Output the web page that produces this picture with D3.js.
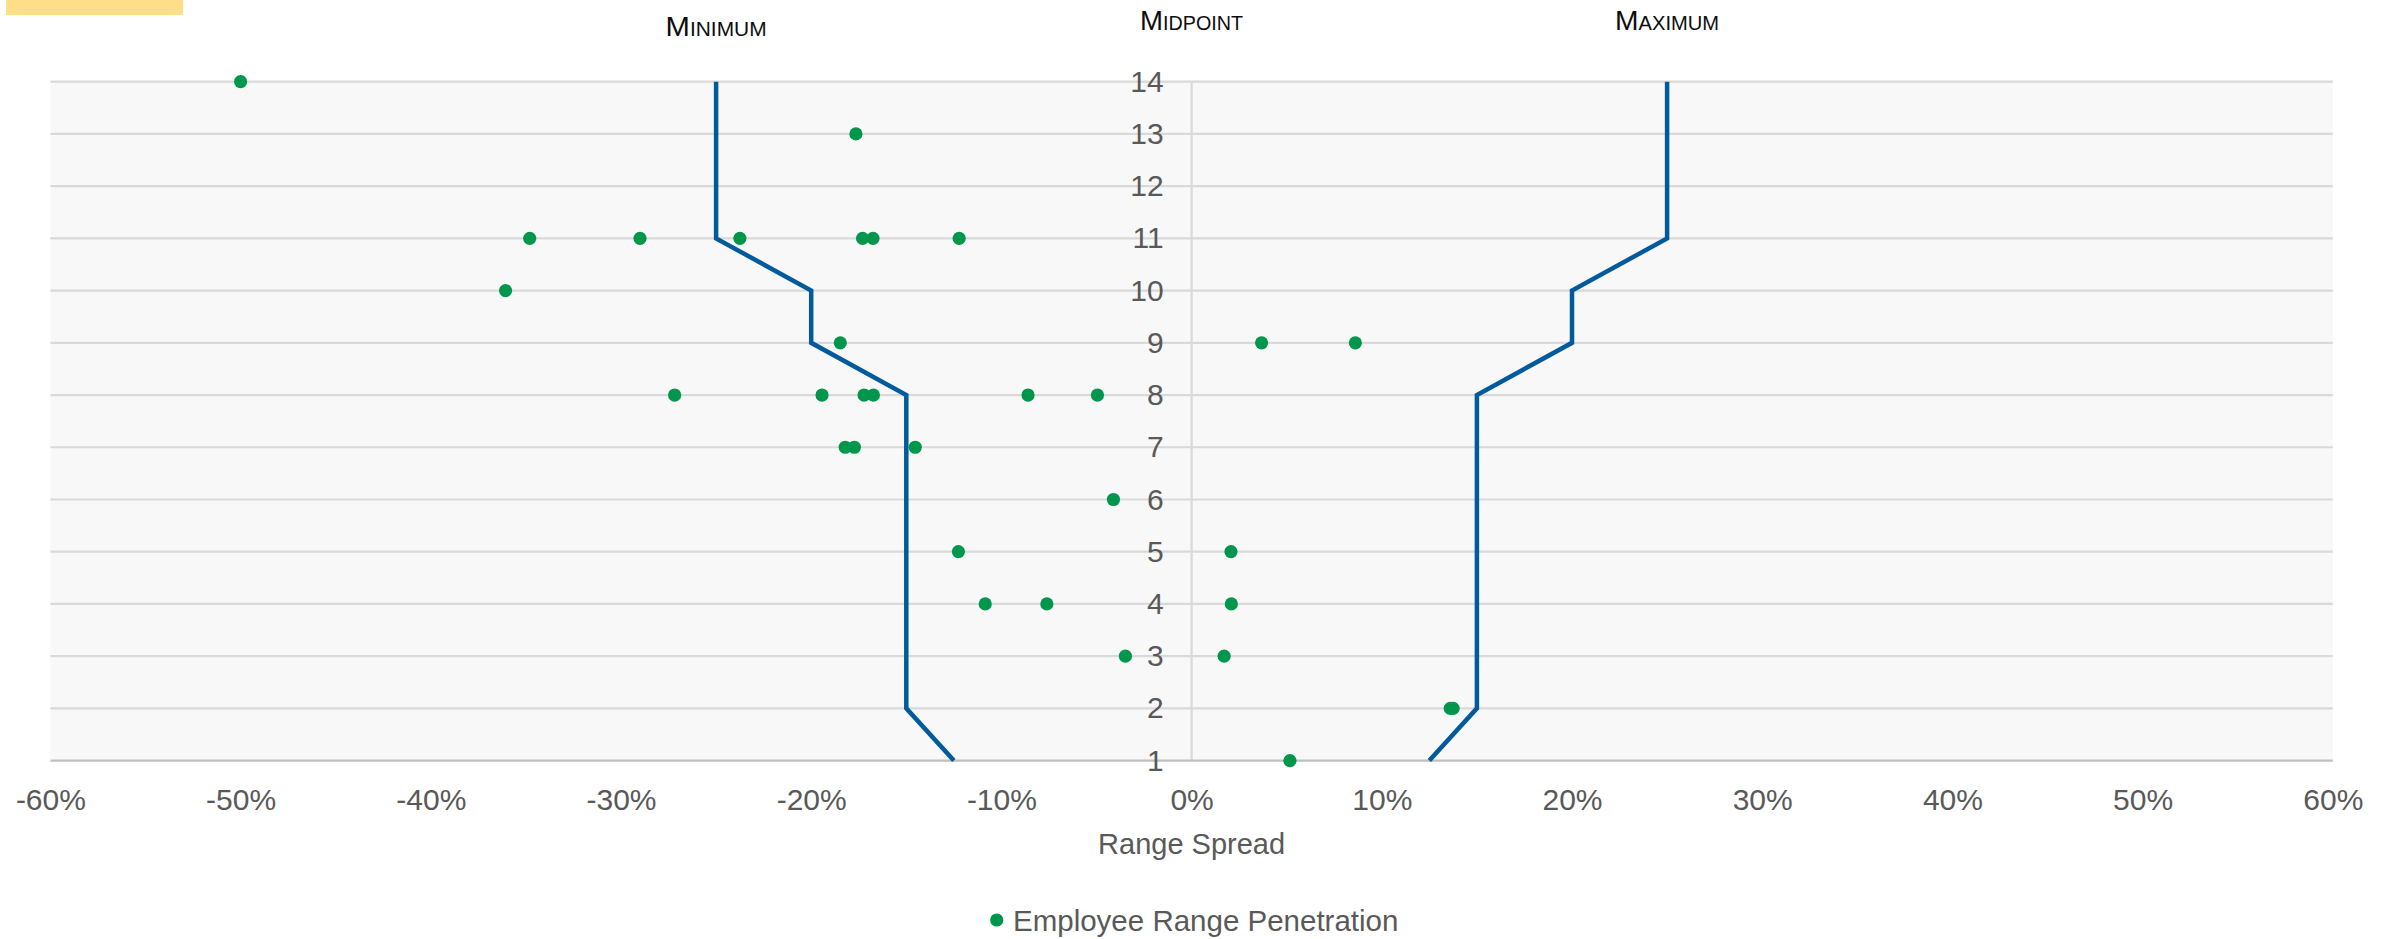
<!DOCTYPE html>
<html>
<head>
<meta charset="utf-8">
<script src="https://cdn.jsdelivr.net/npm/d3@7"></script>
<style>
  html, body { margin: 0; padding: 0; background: #ffffff; }
  svg { display: block; }
  text { font-family: "Liberation Sans", Arial, sans-serif; }
</style>
</head>
<body>
<svg id="chart" width="2395" height="939"></svg>
<script>
// Pay grade levels (y axis)
const levels = [1, 2, 3, 4, 5, 6, 7, 8, 9, 10, 11, 12, 13, 14];

// Range minimum / maximum spread from midpoint, per level
const minSpread = [-0.125, -0.15, -0.15, -0.15, -0.15, -0.15, -0.15, -0.15, -0.20, -0.20, -0.25, -0.25, -0.25, -0.25];
const maxSpread = [0.125, 0.15, 0.15, 0.15, 0.15, 0.15, 0.15, 0.15, 0.20, 0.20, 0.25, 0.25, 0.25, 0.25];

// Employee range penetration: level and spread from midpoint
const empLevel = [
  14, 13,
  11, 11, 11, 11, 11, 11,
  10,
  9, 9, 9,
  8, 8, 8, 8, 8, 8,
  7, 7, 7,
  6,
  5, 5,
  4, 4, 4,
  3, 3,
  2, 2,
  1
];
const empSpread = [
  -0.500, -0.1765,
  -0.348, -0.290, -0.2375, -0.173, -0.1675, -0.1222,
  -0.3607,
  -0.1847, 0.0368, 0.0861,
  -0.2718, -0.1943, -0.1722, -0.1673, -0.0860, -0.0495,
  -0.1821, -0.1773, -0.1453,
  -0.0411,
  -0.1226, 0.0207,
  -0.1085, -0.0761, 0.0209,
  -0.0348, 0.0171,
  0.1360, 0.1375,
  0.0517
];

// X axis ticks
const xTicks = [-0.6, -0.5, -0.4, -0.3, -0.2, -0.1, 0, 0.1, 0.2, 0.3, 0.4, 0.5, 0.6];

// Column headers
const headerLabels = ["Minimum", "Midpoint", "Maximum"];
const headerSpread = [-0.25, 0, 0.25];

const colors = {
  line: "#005A9C",
  point: "#00964B",
  grid: "#D9D9D9",
  axis: "#BFBFBF",
  plotBg: "#F8F8F8",
  text: "#595959",
  header: "#0D0D0D",
  accent: "#FFDE8A"
};

const svg = d3.select("#chart");

const x = d3.scaleLinear().domain([-0.6, 0.6]).range([50.4, 2332.8]);
const y = d3.scaleLinear().domain([1, 14]).range([760.6, 81.7]);

const locale = d3.formatLocale({ decimal: ".", thousands: ",", grouping: [3], currency: ["$", ""], minus: "-" });
const pct = locale.format(".0%");

// Accent bar at top-left
svg.append("rect")
  .attr("x", 6).attr("y", 0).attr("width", 177).attr("height", 15)
  .attr("fill", colors.accent);

// Plot background
svg.append("rect")
  .attr("x", x(-0.6)).attr("y", y(14))
  .attr("width", x(0.6) - x(-0.6)).attr("height", y(1) - y(14))
  .attr("fill", colors.plotBg);

// Horizontal gridlines
svg.append("g").selectAll("line")
  .data(levels.filter(d => d !== 1))
  .join("line")
  .attr("x1", x(-0.6)).attr("x2", x(0.6))
  .attr("y1", d => y(d)).attr("y2", d => y(d))
  .attr("stroke", colors.grid).attr("stroke-width", 2.2);

// Midpoint vertical line
svg.append("line")
  .attr("x1", x(0)).attr("x2", x(0))
  .attr("y1", y(14)).attr("y2", y(1))
  .attr("stroke", colors.grid).attr("stroke-width", 2.2);

// Bottom axis line
svg.append("line")
  .attr("x1", x(-0.6)).attr("x2", x(0.6))
  .attr("y1", y(1)).attr("y2", y(1))
  .attr("stroke", colors.axis).attr("stroke-width", 2.2);

// X axis
const xAxis = svg.append("g")
  .attr("transform", `translate(0,${y(1)})`)
  .call(d3.axisBottom(x).tickValues(xTicks).tickFormat(pct).tickSize(0).tickPadding(28));
xAxis.select(".domain").remove();
xAxis.selectAll("text")
  .attr("fill", colors.text)
  .style("font-family", '"Liberation Sans", Arial, sans-serif')
  .style("font-size", "30px");

// Y axis labels on the midpoint line
const yAxis = svg.append("g")
  .attr("transform", `translate(${x(0) - 28},0)`)
  .call(d3.axisLeft(y).tickValues(levels).tickFormat(d3.format("d")).tickSize(0).tickPadding(0));
yAxis.select(".domain").remove();
yAxis.selectAll("text")
  .attr("fill", colors.text)
  .style("font-family", '"Liberation Sans", Arial, sans-serif')
  .style("font-size", "30px");

// X axis title
svg.append("text")
  .attr("x", x(0)).attr("y", 854)
  .attr("text-anchor", "middle")
  .attr("fill", colors.text)
  .style("font-size", "29px")
  .text("Range Spread");

// Range minimum and maximum lines
const line = d3.line()
  .x(d => x(d[1]))
  .y(d => y(d[0]));

svg.append("path")
  .datum(levels.map((l, i) => [l, minSpread[i]]))
  .attr("d", line)
  .attr("fill", "none")
  .attr("stroke", colors.line)
  .attr("stroke-width", 4.5)
  .attr("stroke-linejoin", "miter");

svg.append("path")
  .datum(levels.map((l, i) => [l, maxSpread[i]]))
  .attr("d", line)
  .attr("fill", "none")
  .attr("stroke", colors.line)
  .attr("stroke-width", 4.5)
  .attr("stroke-linejoin", "miter");

// Employee points
svg.append("g").selectAll("circle")
  .data(empLevel.map((l, i) => ({ level: l, spread: empSpread[i] })))
  .join("circle")
  .attr("cx", d => x(d.spread))
  .attr("cy", d => y(d.level))
  .attr("r", 6.6)
  .attr("fill", colors.point);

// Column headers
const headerBaseline = [36, 30, 30];
const headerWidth = [101, 103, 104];
svg.append("g").selectAll("text")
  .data(headerLabels)
  .join("text")
  .attr("x", (d, i) => x(headerSpread[i]))
  .attr("y", (d, i) => headerBaseline[i])
  .attr("text-anchor", "middle")
  .attr("fill", colors.header)
  .attr("textLength", (d, i) => headerWidth[i])
  .attr("lengthAdjust", "spacingAndGlyphs")
  .style("font-family", '"Liberation Sans Narrow", "Liberation Sans", Arial, sans-serif')
  .style("font-size", "28px")
  .style("font-variant", "small-caps")
  .text(d => d);

// Legend
const legend = svg.append("g");
legend.append("circle")
  .attr("cx", 996.7).attr("cy", 920).attr("r", 6.6)
  .attr("fill", colors.point);
legend.append("text")
  .attr("x", 1013).attr("y", 930.5)
  .attr("fill", colors.text)
  .style("font-size", "29.5px")
  .text("Employee Range Penetration");
</script>
</body>
</html>
